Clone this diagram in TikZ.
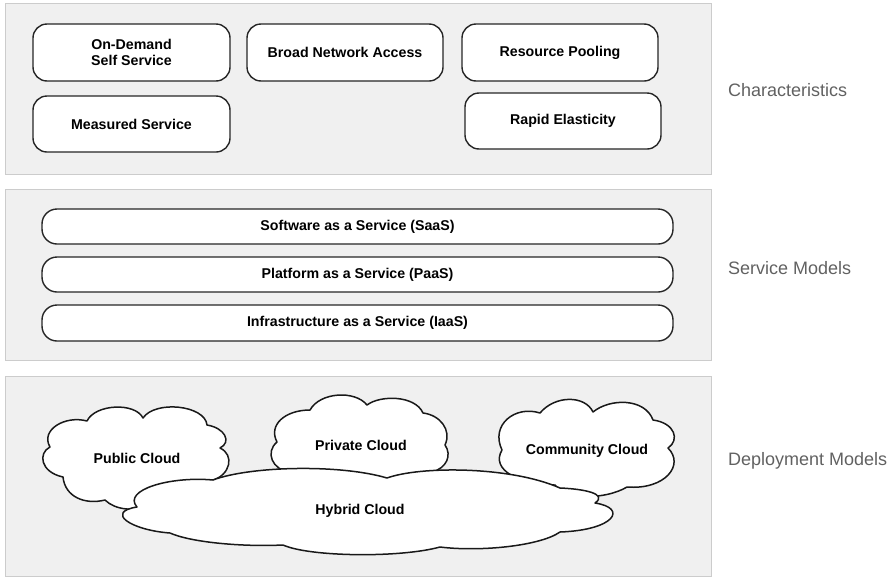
\documentclass[tikz,border=0pt]{standalone}
\usepackage{fontspec}
\setmainfont{Liberation Sans}
\begin{document}
\begin{tikzpicture}[x=1pt,y=-1pt,
  panel/.style={draw=black!20, fill=black!6, line width=1pt, inner sep=0pt},
  feature/.style={draw=black!85, fill=white, line width=1.4pt, rounded corners=14pt,
    inner sep=0pt, align=center, font=\bfseries\fontsize{14.2}{16.5}\selectfont},
  layer/.style={feature, rounded corners=15pt, minimum width=631pt},
  puff/.style={draw=black!90, fill=white, line width=1.5pt, line join=round},
  cloudlabel/.style={inner sep=0pt, font=\bfseries\fontsize{14.2}{16.5}\selectfont},
  caption/.style={anchor=west, inner sep=0pt, text=black!62, font=\fontsize{18}{21}\selectfont}]
\useasboundingbox (0,0) rectangle (890,576);

% three grey bands
\node[panel, minimum width=706pt, minimum height=171pt] (charband) at (358,88.5) {};
\node[panel, minimum width=706pt, minimum height=171pt] (servband) at (358,274.5) {};
\node[panel, minimum width=706pt, minimum height=200pt] (depband) at (358,476) {};

% essential characteristics
\node[feature, minimum width=197pt, minimum height=57pt] (ondemand) at (131.5,52.5) {On-Demand\\Self Service};
\node[feature, minimum width=196pt, minimum height=57pt] (broad) at (345,52.5) {Broad Network Access};
\node[feature, minimum width=196pt, minimum height=57pt] (pooling) at (560,52.5) {Resource Pooling};
\node[feature, minimum width=197pt, minimum height=56pt] (measured) at (131.5,124) {Measured Service};
\node[feature, minimum width=196pt, minimum height=56pt] (elastic) at (563,121) {Rapid Elasticity};

% service models
\node[layer, minimum height=35pt] (saas) at (357.5,226.5) {Software as a Service (SaaS)};
\node[layer, minimum height=35pt] (paas) at (357.5,274.5) {Platform as a Service (PaaS)};
\node[layer, minimum height=36pt] (iaas) at (357.5,323) {Infrastructure as a Service (IaaS)};

% deployment models: cloud outlines
% public
\path[puff] (50,447)
  .. controls (40,430) and (65,415) .. (87,421)
  .. controls (95,404) and (135,402) .. (143,418)
  .. controls (155,400) and (205,405) .. (207,425)
  .. controls (225,428) and (232,442) .. (220,448)
  .. controls (235,455) and (230,475) .. (213,480)
  .. controls (200,495) and (170,510) .. (150,505)
  .. controls (135,512) and (115,510) .. (105,500)
  .. controls (85,505) and (65,497) .. (63,477)
  .. controls (40,472) and (38,453) .. cycle;
% private
\path[puff] (277,442)
  .. controls (268,425) and (285,410) .. (310,410)
  .. controls (320,392) and (355,390) .. (367,405)
  .. controls (380,395) and (415,395) .. (423,413)
  .. controls (440,415) and (452,430) .. (445,445)
  .. controls (452,455) and (447,468) .. (432,472)
  .. controls (400,482) and (320,482) .. (290,472)
  .. controls (272,470) and (265,452) .. cycle;
% community
\path[puff] (502,450)
  .. controls (490,425) and (515,405) .. (540,413)
  .. controls (555,395) and (585,395) .. (593,412)
  .. controls (610,398) and (645,398) .. (653,420)
  .. controls (675,423) and (680,440) .. (668,448)
  .. controls (685,465) and (665,490) .. (627,487)
  .. controls (605,500) and (565,500) .. (555,485)
  .. controls (520,485) and (490,470) .. cycle;
% hybrid, drawn over the other three
\path[puff] (137,507)
  .. controls (122,490) and (170,476) .. (213,480)
  .. controls (250,466) and (340,464) .. (387,478)
  .. controls (420,466) and (510,466) .. (560,488)
  .. controls (585,489) and (608,494) .. (595,503)
  .. controls (628,508) and (615,530) .. (560,532)
  .. controls (540,546) and (480,552) .. (440,547)
  .. controls (400,558) and (310,557) .. (283,545)
  .. controls (240,547) and (190,542) .. (170,533)
  .. controls (130,530) and (105,512) .. cycle;

% deployment models: names
\node[cloudlabel] (public) at (137,458) {Public Cloud};
\node[cloudlabel] (private) at (361,445) {Private Cloud};
\node[cloudlabel] (community) at (587,451) {Community Cloud};
\node[cloudlabel] (hybrid) at (360,511) {Hybrid Cloud};

% band captions
\node[caption] (capchar) at (728,90) {Characteristics};
\node[caption] (capserv) at (728,268) {Service Models};
\node[caption] (capdep) at (728,461) {Deployment Models};
\end{tikzpicture}
\end{document}
